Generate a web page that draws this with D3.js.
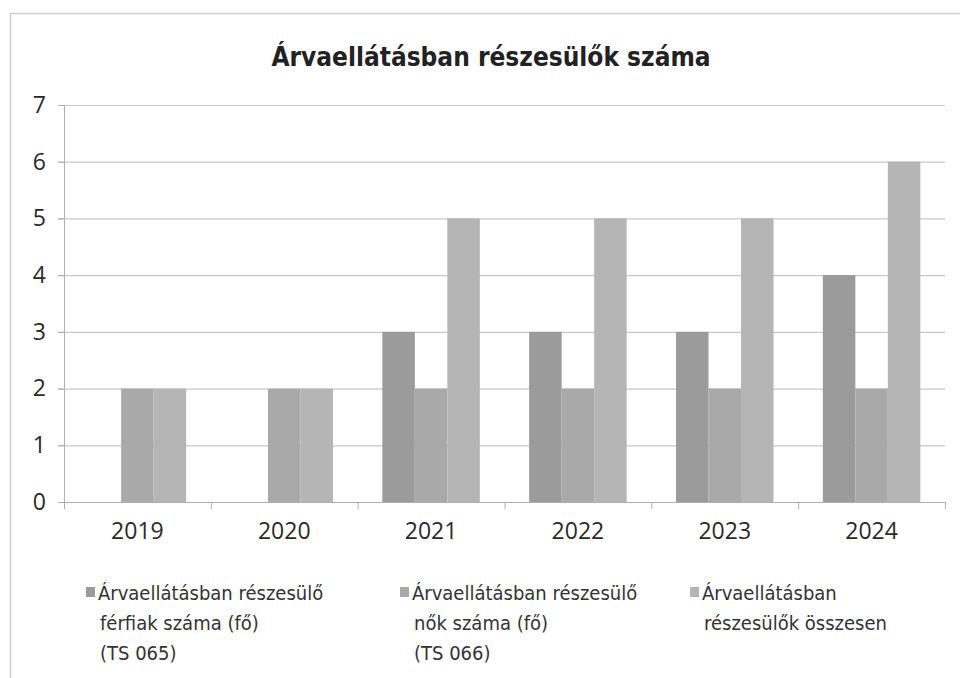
<!DOCTYPE html>
<meta charset="utf-8">
<style>
body { margin: 0; background: #fff; }
svg { display: block; }
.grid line { stroke: #c8c8c8; stroke-width: 1.2px; }
.axis text { font-family: "Open Sans", sans-serif; font-size: 23px; fill: #2a2a2a; }
.axis path, .axis line { stroke: #b0b0b0; }
.title { font-family: "Liberation Sans Narrow", "DejaVu Sans Condensed", sans-serif; font-weight: bold; font-size: 26px; fill: #222; }
.legend text { font-family: "Liberation Sans Narrow", "DejaVu Sans Condensed", sans-serif; font-size: 20px; fill: #333; }
</style>
<svg width="960" height="678"></svg>
<script src="https://cdn.jsdelivr.net/npm/d3@7"></script>
<script>

var years = ["2019", "2020", "2021", "2022", "2023", "2024"];
var seriesNames = ["ferfi", "no", "osszes"];
var ferfiak = [0, 0, 3, 3, 3, 4];
var nok = [2, 2, 2, 2, 2, 2];
var osszesen = [2, 2, 5, 5, 5, 6];
var yTicks = [0, 1, 2, 3, 4, 5, 6, 7];
var legendLabels = [
  ["Árvaellátásban részesülő", "férfiak száma (fő)", "(TS 065)"],
  ["Árvaellátásban részesülő", "nők száma (fő)", "(TS 066)"],
  ["Árvaellátásban", "részesülők összesen"]
];
var colors = ["#9b9b9b", "#a9a9a9", "#b5b5b5"];

var svg = d3.select("svg");

// outer frame
svg.append("path")
    .attr("d", "M10.5,678 V13.5 H960")
    .attr("fill", "none")
    .attr("stroke", "#d0d0d0")
    .attr("stroke-width", 1.5);

var margin = {left: 64, right: 15, top: 105, bottom: 176};
var width = 960 - margin.left - margin.right,
    height = 678 - margin.top - margin.bottom;

var g = svg.append("g").attr("transform", "translate(" + margin.left + "," + margin.top + ")");

var x0 = d3.scaleBand().domain(years).range([0, width]).padding(0);
var gap = x0.bandwidth() * 0.168;
var x1 = d3.scaleBand().domain(seriesNames).range([gap, x0.bandwidth() - gap]).padding(0);
var y = d3.scaleLinear().domain([0, 7]).range([height, 0]);

// gridlines
g.append("g").attr("class", "grid")
  .selectAll("line").data(yTicks.slice(1)).enter().append("line")
    .attr("x1", -6).attr("x2", width)
    .attr("y1", function(d) { return y(d) + 0.5; })
    .attr("y2", function(d) { return y(d) + 0.5; });

var rows = years.map(function(yr, i) {
  return {year: yr, vals: [ferfiak[i], nok[i], osszesen[i]]};
});

var groups = g.selectAll(".yr").data(rows).enter().append("g")
    .attr("transform", function(d) { return "translate(" + x0(d.year) + ",0)"; });

groups.selectAll("rect")
  .data(function(d) { return d.vals.map(function(v, k) { return {key: seriesNames[k], v: v, k: k}; }); })
  .enter().append("rect")
    .attr("x", function(d) { return x1(d.key); })
    .attr("width", x1.bandwidth())
    .attr("y", function(d) { return y(d.v); })
    .attr("height", function(d) { return y(0) - y(d.v); })
    .attr("fill", function(d) { return colors[d.k]; });

// y axis
var yAxis = g.append("g").attr("class", "axis")
    .call(d3.axisLeft(y).tickValues(yTicks).tickFormat(d3.format("d")).tickSize(6).tickPadding(12));
yAxis.select(".domain").attr("d", "M0.5," + height + "V0");
yAxis.selectAll(".tick line").attr("stroke", "#c8c8c8");

// x axis
var xAxis = g.append("g").attr("class", "axis")
    .attr("transform", "translate(0," + height + ")")
    .call(d3.axisBottom(x0).tickSize(0).tickPadding(21));
xAxis.select(".domain").attr("d", "M0," + 0.5 + "H" + width);
xAxis.selectAll(".bnd").data(d3.range(years.length + 1)).enter().append("line")
    .attr("x1", function(i) { return i * x0.step() + 0.5; })
    .attr("x2", function(i) { return i * x0.step() + 0.5; })
    .attr("y1", 0).attr("y2", 7)
    .attr("stroke", "#b0b0b0");

// title
svg.append("text").attr("class", "title")
    .attr("x", 491).attr("y", 66)
    .attr("text-anchor", "middle")
    .text("Árvaellátásban részesülők száma");

// legend
var legX = [86, 400, 690];
var leg = svg.append("g").attr("class", "legend")
  .selectAll("g").data(legendLabels).enter().append("g")
    .attr("transform", function(d, i) { return "translate(" + legX[i] + ",0)"; });
leg.append("rect")
    .attr("x", 0).attr("y", 587).attr("width", 9).attr("height", 10)
    .attr("fill", function(d, i) { return colors[i]; });
leg.each(function(lines) {
  var t = d3.select(this);
  lines.forEach(function(s, j) {
    t.append("text").attr("x", j === 0 ? 12 : 14).attr("y", 600 + j * 30).text(s);
  });
});

</script>
